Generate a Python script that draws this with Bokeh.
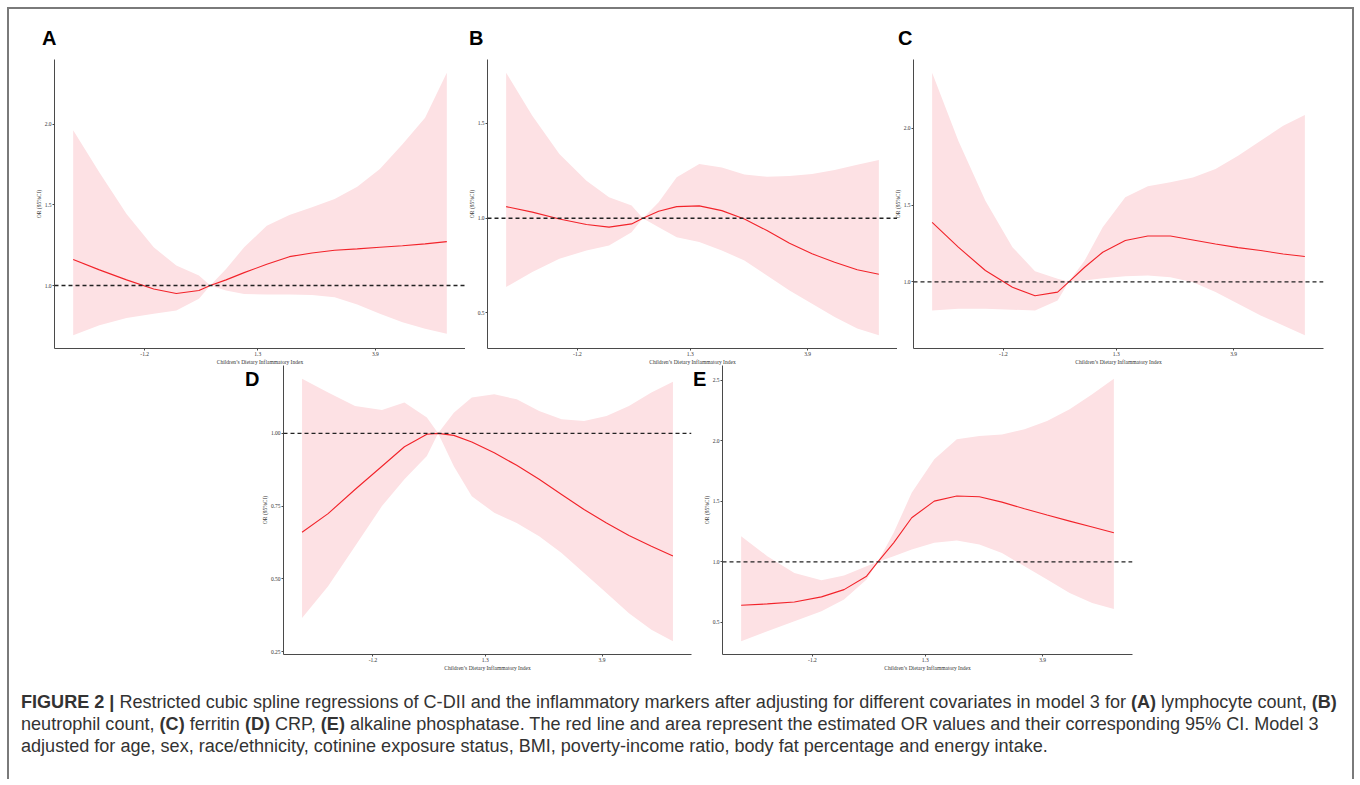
from bokeh.plotting import figure
from bokeh.models import Span, FixedTicker, Div, PrintfTickFormatter
from bokeh.layouts import column, row
from bokeh.embed import file_html
from bokeh.resources import INLINE

# ---------------- data ----------------
x_cdii = [-2.78, -2.2, -1.6, -1.0, -0.5, 0.0, 0.25, 0.6, 1.0, 1.5, 2.0, 2.5, 3.0, 3.5, 4.0, 4.5, 5.0, 5.48]
x_ticks = [-1.2, 1.3, 3.9]
ref_or = 1.0

a_or = [1.161, 1.097, 1.035, 0.979, 0.951, 0.969, 1.0, 1.035, 1.080, 1.132, 1.179, 1.202, 1.219, 1.227, 1.237, 1.247, 1.258, 1.272]
a_hi = [1.963, 1.701, 1.443, 1.237, 1.124, 1.062, 1.0, 1.103, 1.237, 1.371, 1.437, 1.485, 1.536, 1.612, 1.722, 1.876, 2.041, 2.320]
a_lo = [0.691, 0.753, 0.798, 0.825, 0.845, 0.918, 1.0, 0.969, 0.948, 0.944, 0.944, 0.942, 0.928, 0.882, 0.825, 0.773, 0.732, 0.701]
a_yticks = [1.0, 1.5, 2.0]

b_or = [1.061, 1.032, 0.996, 0.967, 0.953, 0.970, 1.0, 1.037, 1.061, 1.065, 1.040, 0.996, 0.935, 0.868, 0.812, 0.768, 0.728, 0.704]
b_hi = [1.768, 1.540, 1.339, 1.198, 1.111, 1.067, 1.0, 1.084, 1.216, 1.286, 1.268, 1.230, 1.219, 1.223, 1.233, 1.254, 1.282, 1.307]
b_lo = [0.637, 0.716, 0.786, 0.830, 0.856, 0.926, 1.0, 0.953, 0.900, 0.874, 0.830, 0.777, 0.698, 0.619, 0.549, 0.479, 0.418, 0.382]
b_yticks = [0.5, 1.0, 1.5]

c_or = [1.388, 1.226, 1.074, 0.965, 0.909, 0.933, 1.0, 1.095, 1.193, 1.269, 1.299, 1.299, 1.273, 1.247, 1.223, 1.204, 1.182, 1.165]
c_hi = [2.364, 1.920, 1.529, 1.226, 1.069, 1.020, 1.0, 1.139, 1.356, 1.551, 1.623, 1.649, 1.681, 1.735, 1.822, 1.920, 2.017, 2.087]
c_lo = [0.813, 0.824, 0.824, 0.818, 0.813, 0.879, 1.0, 1.009, 1.024, 1.037, 1.041, 1.030, 0.998, 0.933, 0.857, 0.781, 0.716, 0.651]
c_yticks = [1.0, 1.5, 2.0]

d_or = [0.660, 0.724, 0.807, 0.887, 0.954, 0.997, 1.0, 0.993, 0.970, 0.933, 0.890, 0.842, 0.790, 0.738, 0.692, 0.649, 0.612, 0.578]
d_hi = [1.188, 1.140, 1.094, 1.080, 1.106, 1.054, 1.0, 1.071, 1.123, 1.134, 1.117, 1.077, 1.048, 1.042, 1.060, 1.094, 1.140, 1.177]
d_lo = [0.365, 0.474, 0.612, 0.750, 0.842, 0.922, 1.0, 0.887, 0.784, 0.727, 0.692, 0.646, 0.589, 0.520, 0.451, 0.382, 0.325, 0.285]
d_yticks = [0.25, 0.50, 0.75, 1.00]

e_or = [0.642, 0.653, 0.669, 0.711, 0.771, 0.882, 1.0, 1.157, 1.364, 1.501, 1.543, 1.537, 1.493, 1.438, 1.386, 1.336, 1.287, 1.240]
e_hi = [1.212, 1.047, 0.909, 0.848, 0.887, 0.964, 1.0, 1.240, 1.570, 1.846, 2.011, 2.039, 2.052, 2.094, 2.163, 2.259, 2.383, 2.512]
e_lo = [0.344, 0.427, 0.510, 0.592, 0.689, 0.854, 1.0, 1.047, 1.102, 1.157, 1.176, 1.143, 1.074, 0.964, 0.854, 0.744, 0.661, 0.612]
e_yticks = [0.5, 1.0, 1.5, 2.0, 2.5]

panel_letters = ["A", "B", "C", "D", "E"]
x_title = "Children\u2019s Dietary Inflammatory Index"
y_title = "OR (95%CI)"

AXIS = "#4a4a4a"
RED = "#f2232a"
PINK = "#fde1e4"
LETTER_CSS = ("font-family:'Liberation Sans',Arial,sans-serif;font-weight:bold;font-size:20px;"
              "line-height:20px;color:#000;white-space:nowrap;")


def panel(est, lo, hi, yticks, yfmt, fw, fh, bl, br, bt, bb, styles=None):
    xpad = 0.05 * (max(x_cdii) - min(x_cdii))
    ypad = 0.05 * (max(hi) - min(lo))
    p = figure(frame_width=fw, frame_height=fh,
               x_range=(min(x_cdii) - xpad, max(x_cdii) + xpad),
               y_range=(min(lo) - ypad, max(hi) + ypad),
               output_backend="svg", toolbar_location=None,
               min_border_left=bl, min_border_right=br,
               min_border_top=bt, min_border_bottom=bb,
               styles=styles or {})
    p.xgrid.visible = False
    p.ygrid.visible = False
    p.outline_line_color = None
    p.background_fill_color = "white"
    p.border_fill_color = None
    p.varea(x=x_cdii, y1=lo, y2=hi, fill_color=PINK, fill_alpha=1.0)
    p.add_layout(Span(location=ref_or, dimension="width", line_color="#222222",
                      line_dash="4 3", line_width=1.4))
    p.line(x=x_cdii, y=est, line_color=RED, line_width=1.1)
    for ax in (p.xaxis[0], p.yaxis[0]):
        ax.axis_line_color = AXIS
        ax.axis_line_width = 1
        ax.major_tick_line_color = AXIS
        ax.major_tick_out = 2
        ax.major_tick_in = 0
        ax.minor_tick_line_color = None
        ax.major_label_text_font = "Liberation Serif"
        ax.major_label_text_font_size = "5.5px"
        ax.major_label_text_color = "#333333"
        ax.major_label_standoff = 1
        ax.axis_label_text_font = "Liberation Serif"
        ax.axis_label_text_font_size = "5.5px"
        ax.axis_label_text_font_style = "normal"
        ax.axis_label_text_color = "#333333"
        ax.axis_label_standoff = 0
    p.xaxis[0].ticker = FixedTicker(ticks=x_ticks)
    p.xaxis[0].formatter = PrintfTickFormatter(format="%.1f")
    p.yaxis[0].ticker = FixedTicker(ticks=yticks)
    p.yaxis[0].formatter = PrintfTickFormatter(format=yfmt)
    p.xaxis[0].axis_label = x_title
    p.yaxis[0].axis_label = y_title
    return p


def letter_div(letter, w, h, left, top, styles=None):
    html = f"<div style=\"{LETTER_CSS}padding:{top}px 0 0 {left}px;\">{letter}</div>"
    return Div(text=html, width=w, height=h, margin=0, styles=styles or {})


# row 1: letter strip above each frame
pa = panel(a_or, a_lo, a_hi, a_yticks, "%.1f", 411, 289, 45, 0, 0, 12)
pb = panel(b_or, b_lo, b_hi, b_yticks, "%.1f", 410, 289, 22, 0, 0, 12)
pc = panel(c_or, c_lo, c_hi, c_yticks, "%.1f", 410, 289, 22, 29, 0, 12)

col_a = column(letter_div(panel_letters[0], 456, 50, 33, 19), pa)
col_b = column(letter_div(panel_letters[1], 432, 50, 4, 19), pb)
col_c = column(letter_div(panel_letters[2], 461, 50, 7, 19), pc, styles={"margin-left": "-6px"})

# row 2: letters to the left of the frames
pd = panel(d_or, d_lo, d_hi, d_yticks, "%.2f", 408, 289, 26, 1, 0, 12)
pe = panel(e_or, e_lo, e_hi, e_yticks, "%.1f", 410, 289, 22, 220, 0, 12,
           styles={"margin-left": "-6px"})
div_d = letter_div(panel_letters[3], 248, 300, 236, 4)
div_e = letter_div(panel_letters[4], 14, 300, 1, 4)

caption_html = (
    "<div style=\"font-family:'Liberation Sans',Arial,sans-serif;font-size:18.07px;line-height:22px;"
    "color:#333333;padding:18px 0 0 12px;white-space:nowrap;\">"
    "<b>FIGURE 2 |</b> Restricted cubic spline regressions of C-DII and the inflammatory markers after "
    "adjusting for different covariates in model 3 for <b>(A)</b> lymphocyte count, <b>(B)</b><br>"
    "neutrophil count, <b>(C)</b> ferritin <b>(D)</b> CRP, <b>(E)</b> alkaline phosphatase. The red line and "
    "area represent the estimated OR values and their corresponding 95% CI. Model 3<br>"
    "adjusted for age, sex, race/ethnicity, cotinine exposure status, BMI, poverty-income ratio, body fat "
    "percentage and energy intake.</div>"
)
caption = Div(text=caption_html, width=1343, height=106, margin=0)

layout = column(
    row(col_a, col_b, col_c),
    row(div_d, pd, div_e, pe, styles={"margin-top": "-2px"}),
    caption,
    styles={"margin-left": "7px", "margin-top": "7px",
            "border-top": "2px solid #7a7a7a", "border-left": "2px solid #7a7a7a",
            "border-right": "2px solid #7a7a7a", "background": "white"},
)

open("out.html", "w").write(file_html(layout, INLINE))
